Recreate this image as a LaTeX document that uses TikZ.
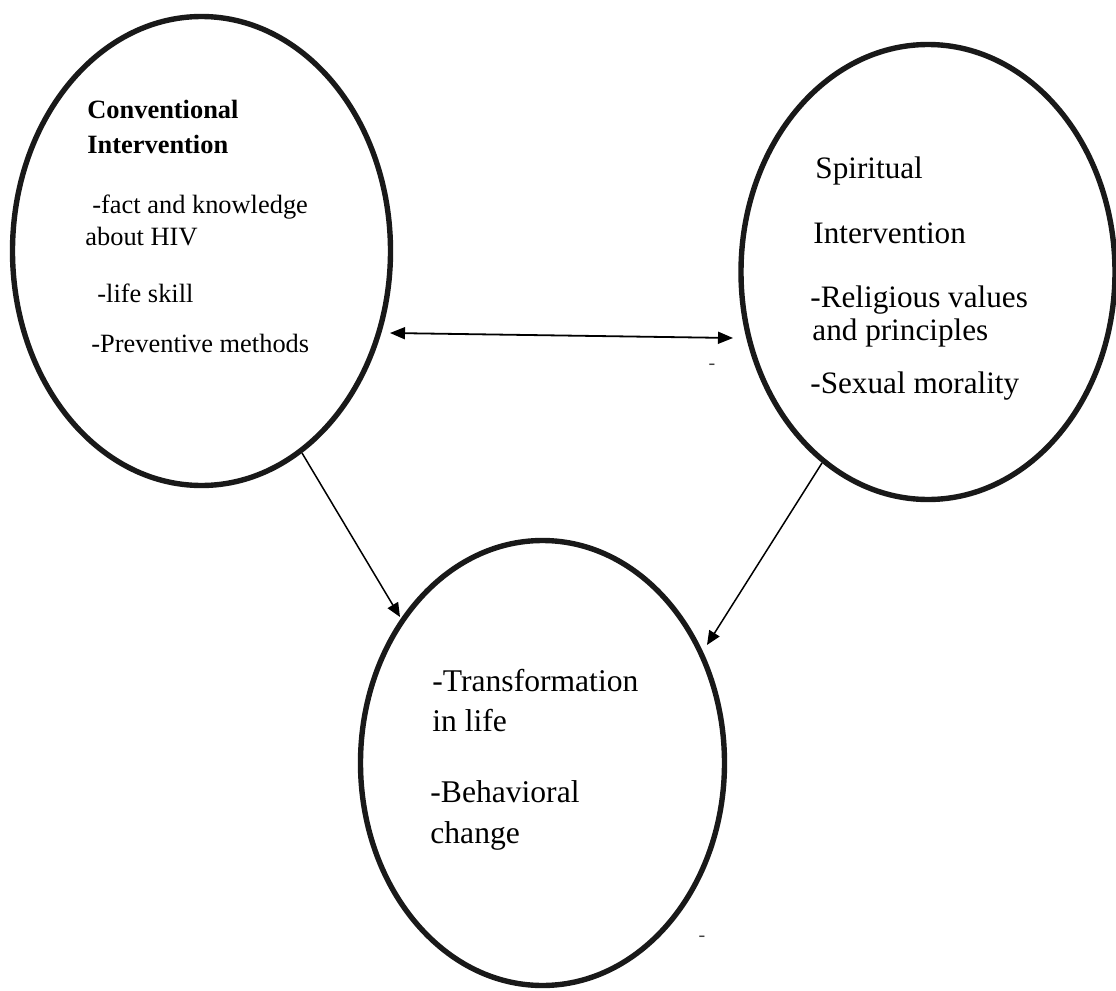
\documentclass[tikz,border=0pt]{standalone}
\usepackage{fontspec}
\setmainfont{Liberation Serif}
\usetikzlibrary{shapes.geometric,arrows.meta}
\begin{document}
\begin{tikzpicture}[x=0.5pt,y=-0.5pt,
  ell/.style={ellipse, draw=black!90, line width=2.7pt, inner sep=0pt, outer sep=0pt},
  lt/.style={anchor=base west, inner sep=0pt, font=\fontsize{13.2}{15}\selectfont},
  rt/.style={anchor=base west, inner sep=0pt, font=\fontsize{15.6}{18}\selectfont},
  bt/.style={anchor=base west, inner sep=0pt, font=\fontsize{15.8}{18}\selectfont},
  strayhyphen/.style={inner sep=0pt, font=\fontsize{10}{12}\selectfont, text=black!75},
  conn/.style={line width=0.75pt, -{Triangle[length=7pt,width=6pt]}},
  dconn/.style={line width=0.9pt, {Triangle[length=7.5pt,width=6pt]}-{Triangle[length=7.5pt,width=6pt]}},
]
\useasboundingbox (0,0) rectangle (1116,991);

% ellipses
\node[ell, minimum width=189pt, minimum height=234.5pt] (L) at (201.5,251) {};
\node[ell, minimum width=187pt, minimum height=227.5pt] (R) at (928,272) {};
\node[ell, minimum width=182pt, minimum height=222.5pt] (B) at (542.5,763) {};

% left texts
\node[lt] (l1) at (87,118) {\textbf{Conventional}};
\node[lt] (l2) at (87,153) {\textbf{Intervention}};
\node[lt] (l3) at (92,213) {-fact and knowledge};
\node[lt] (l4) at (85,245) {about HIV};
\node[lt] (l5) at (97,302) {-life skill};
\node[lt] (l6) at (91,352) {-Preventive methods};

% right texts
\node[rt] (r1) at (815,178) {Spiritual};
\node[rt] (r2) at (813,243) {Intervention};
\node[rt] (r3) at (810,307) {-Religious values};
\node[rt] (r4) at (812,340) {and principles};
\node[rt] (r5) at (810,393) {-Sexual morality};

% bottom texts
\node[bt] (b1) at (432,691) {-Transformation};
\node[bt] (b2) at (432,731) {in life};
\node[bt] (b3) at (430,802) {-Behavioral};
\node[bt] (b4) at (430,843) {change};

% stray marks
\node[strayhyphen] (m1) at (712,367) {-};
\node[strayhyphen] (m2) at (702,939) {-};

% connector ends
\coordinate (LR1) at (390,333);
\coordinate (LR2) at (733,338);
\coordinate (LB1) at (302,453);
\coordinate (LB2) at (400,617);
\coordinate (RB1) at (822,463);
\coordinate (RB2) at (707,645);

\draw[dconn] (LR1) -- (LR2);
\draw[conn] (LB1) -- (LB2);
\draw[conn] (RB1) -- (RB2);
\end{tikzpicture}
\end{document}
